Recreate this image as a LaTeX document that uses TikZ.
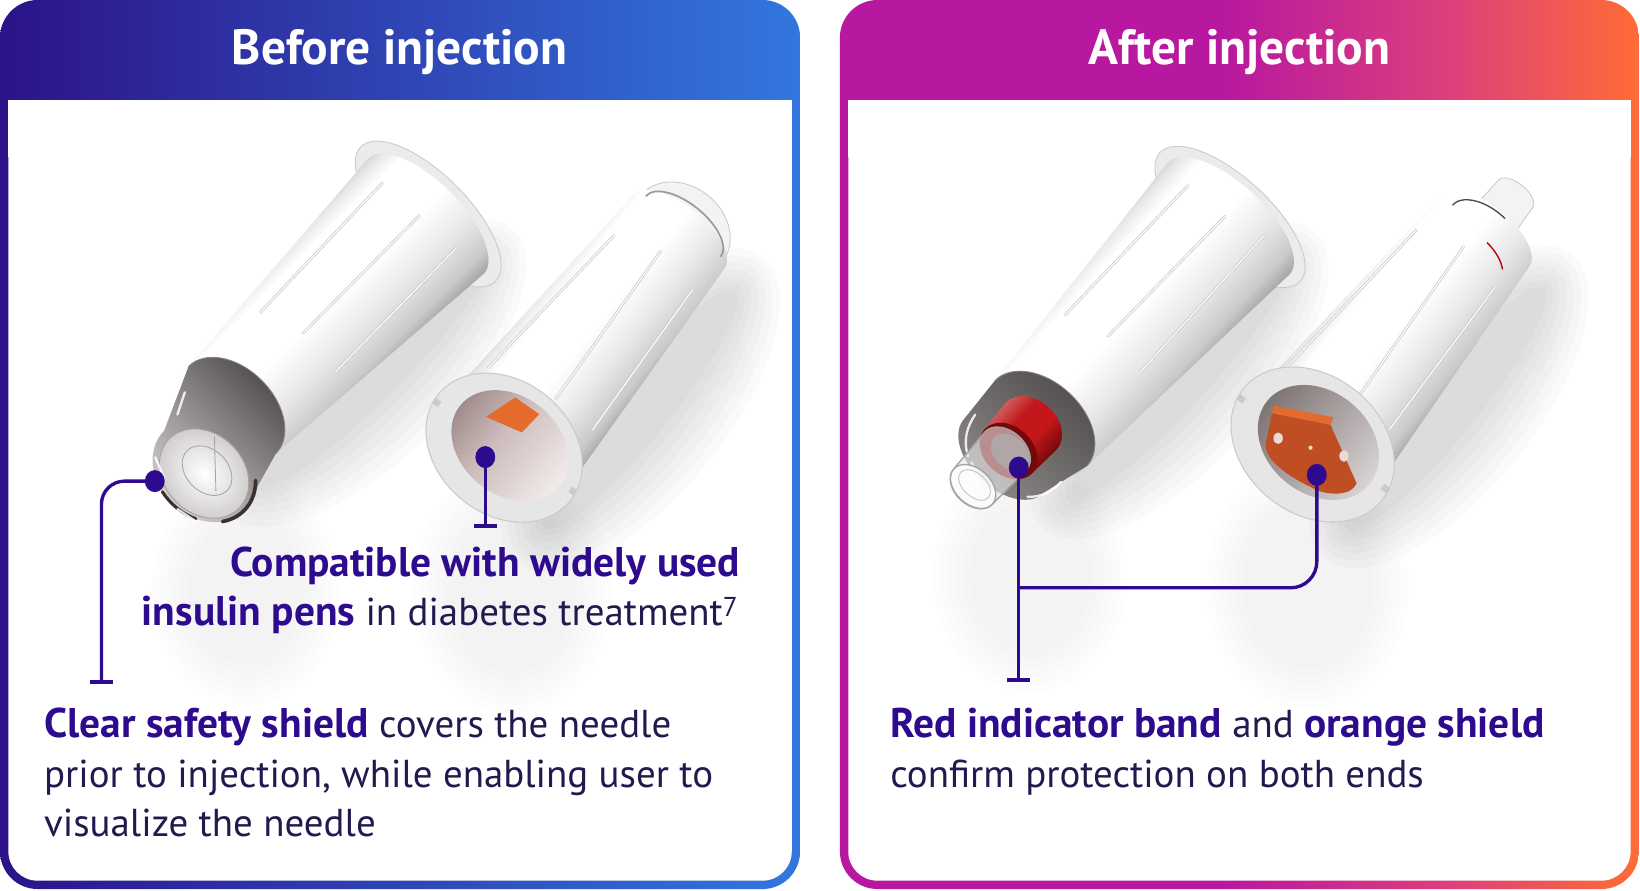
\documentclass[tikz,border=0pt]{standalone}
\usepackage{fontspec}
\setmainfont{PT Sans}
\usetikzlibrary{shapes.geometric}
\definecolor{indA}{HTML}{2C1389}
\definecolor{bluA}{HTML}{3277DE}
\definecolor{magA}{HTML}{B8189F}
\definecolor{pnkA}{HTML}{DC3F7C}
\definecolor{orgA}{HTML}{FF6C35}
\definecolor{boldc}{HTML}{2E0A8E}
\definecolor{txtc}{HTML}{211A4E}
\definecolor{cg1}{HTML}{F3F3F3}
\definecolor{cg2}{HTML}{E8E8E8}
\definecolor{cg3}{HTML}{CACACA}
\definecolor{cg4}{HTML}{A4A4A4}
\definecolor{cg5}{HTML}{D8D8D8}
\definecolor{rimc}{HTML}{E6E6E6}
\definecolor{flc}{HTML}{ECEAEA}
\definecolor{capd}{HTML}{575252}
\definecolor{capm}{HTML}{8A8585}
\definecolor{capl}{HTML}{D2CECE}
\definecolor{capk}{HTML}{3E3030}
\definecolor{redA}{HTML}{C3171B}
\definecolor{redB}{HTML}{740909}
\definecolor{redL}{HTML}{CF5C5C}
\definecolor{oraA}{HTML}{BF4E22}
\definecolor{oraB}{HTML}{E56B2D}
\definecolor{oraH}{HTML}{EADBD4}
\definecolor{pkD}{HTML}{A18C8C}
\definecolor{pkM}{HTML}{CDBDBC}
\definecolor{pkL}{HTML}{F2ECEB}
\definecolor{gyD}{HTML}{7E7474}
\definecolor{gyL}{HTML}{D9D3D3}
\pgfdeclarehorizontalshading{afterg}{100bp}{color(0bp)=(magA); color(25bp)=(magA); color(49bp)=(magA); color(63bp)=(pnkA); color(75bp)=(orgA); color(100bp)=(orgA)}
\pgfdeclareverticalshading{cylw}{100bp}{color(0bp)=(cg4); color(25bp)=(cg4); color(30bp)=(cg3); color(40bp)=(cg2); color(52bp)=(white); color(68bp)=(white); color(73bp)=(cg2); color(75bp)=(cg5); color(100bp)=(cg5)}
\pgfdeclareverticalshading{redc}{100bp}{color(0bp)=(redB); color(25bp)=(redB); color(42bp)=(redA); color(60bp)=(redA); color(75bp)=(redL); color(100bp)=(redL)}
\pgfdeclareverticalshading{openb}{100bp}{color(0bp)=(pkL); color(25bp)=(pkL); color(55bp)=(pkM); color(75bp)=(pkD); color(100bp)=(pkD)}
\pgfdeclareverticalshading{opend}{100bp}{color(0bp)=(gyL); color(25bp)=(gyL); color(75bp)=(gyD); color(100bp)=(gyD)}
\newcommand\cylbody[6]{(#1,-#2) -- (#3,-#4) arc[start angle=-90,end angle=90,x radius={#6*#4},y radius=#4] -- (#1,#2) arc[start angle=90,end angle=270,x radius={#5*#2},y radius=#2] -- cycle}
\newcommand\hl[1]{{\fontsize{39.6}{48}\selectfont\bfseries\color{boldc}#1}}
\newcommand\rib[2]{\draw[ribg] #1 -- #2; \draw[ribw] #1 -- #2;}
\tikzset{
  bodytxt/.style={font=\fontsize{37.2}{48}\selectfont, text=txtc, inner sep=0pt},
  titletxt/.style={font=\bfseries\fontsize{47.3}{52}\selectfont, text=white, inner sep=0pt, anchor=base},
  conn/.style={draw=boldc, line width=3.2pt},
  tickln/.style={draw=boldc, line width=4.5pt},
  dotn/.style={ellipse, fill=boldc, inner sep=0pt, minimum width=19pt, minimum height=21pt},
  ribg/.style={draw=cg3, line width=2.6pt, line cap=round},
  ribw/.style={draw=white, line width=1.1pt, line cap=round},
  flange/.style={fill=flc, draw=cg3, line width=0.8pt},
  shad/.style={fill=black, opacity=0.02},
  refl/.style={fill=black, opacity=0.006},
  glint/.style={draw=white, line width=2.2pt, line cap=round, opacity=0.85},
}
\begin{document}
\begin{tikzpicture}[x=1pt,y=-1pt]
\useasboundingbox (0,0) rectangle (1568,851);
\fill[white] (0,0) rectangle (1568,851);
% panels
\shade[left color=indA, right color=bluA, rounded corners=36pt] (0,0) rectangle (765,850);
\fill[white, rounded corners=28pt] (8,96) rectangle (757,842);
\fill[white] (8,96) rectangle (757,150);
\shade[shading=afterg, rounded corners=36pt] (803,0) rectangle (1567,850);
\fill[white, rounded corners=28pt] (811,96) rectangle (1559,842);
\fill[white] (811,96) rectangle (1559,150);
\node[titletxt] (tb) at (382,62) {Before injection};
\node[titletxt] (ta) at (1185,62) {After injection};

% ---------- reflections on the floor
\foreach \cx/\cy/\rx/\ry in {235/565/55/70, 490/565/60/78, 985/550/58/72, 1250/560/62/78}{
  \foreach \s in {0,...,5}{\fill[refl] (\cx,\cy) ellipse[x radius={\rx+7*\s}, y radius={\ry+8*\s}];}
}

% ---------- Pen A
\begin{scope}[transform canvas={shift={(222,392)}, rotate=45}]
  \foreach \s in {0,...,6}{\fill[shad] (120,70) ellipse[x radius={150+7*\s}, y radius={26+9*\s}];}
  \filldraw[flange] (265,0) ellipse[x radius=38, y radius=91];
  \shade[shading=cylw] \cylbody{0}{59}{262}{78}{0.75}{0.42};
  \rib{(85,-47)}{(255,-52)}
  \rib{(100,-4)}{(258,-5)}
  \rib{(96,44)}{(262,42)}
  % clear shield (cup)
  \shade[left color=capl, middle color=capm, right color=capd] (0,-59) arc[start angle=-90, end angle=90, x radius=40, y radius=59] -- (-60,76) arc[start angle=90, end angle=270, x radius=44, y radius=54] -- cycle;
  \draw[capm, line width=0.8pt] (0,-59) arc[start angle=-90, end angle=90, x radius=40, y radius=59];
  \shade[inner color=white, outer color=capl] (-62,24) ellipse[x radius=38, y radius=47];
  \draw[cg4, line width=0.9pt] (-62,24) ellipse[x radius=38, y radius=47];
  \draw[cg4, line width=0.8pt] (-58,24) ellipse[x radius=20, y radius=27];
  \draw[cg4, line width=0.8pt] (-30,6) -- (-66,44);
  \draw[capk, line width=3.5pt, line cap=round] (-60,22) ++(50:44 and 54) arc[start angle=50, end angle=120, x radius=44, y radius=54];
  \draw[capk, line width=3pt, line cap=round] (-60,22) ++(150:44 and 54) arc[start angle=150, end angle=195, x radius=44, y radius=54];
  \draw[glint] (-92,0) -- (-84,-20) (-40,-34) -- (-20,-44) (-104,30) -- (-100,50);
\end{scope}

% ---------- Pen B
\begin{scope}[transform canvas={shift={(482,428)}, rotate=51}]
  \foreach \s in {0,...,6}{\fill[shad] (110,78) ellipse[x radius={145+7*\s}, y radius={28+9*\s}];}
  \filldraw[fill=cg1, draw=cg3, line width=0.8pt] (270,0) ellipse[x radius=40, y radius=50];
  \shade[shading=cylw] \cylbody{0}{72}{265}{56}{0.79}{0.45};
  \draw[gray!80, line width=1.6pt] (272,-46) arc[start angle=-90, end angle=90, x radius=22, y radius=46];
  \rib{(50,-60)}{(224,-46)}
  \rib{(67,9)}{(240,-2)}
  \rib{(66,55)}{(231,45)}
  \filldraw[fill=rimc, draw=cg3, line width=1pt] (0,0) ellipse[x radius=64, y radius=81];
  \shade[shading=openb] (5,3) ellipse[x radius=47, y radius=61];
  \begin{scope}
    \clip (5,3) ellipse[x radius=47, y radius=61];
    \fill[oraB] (12,-32) -- (44,-22) -- (46,6) -- (22,4) -- cycle;
  \end{scope}
  \fill[cg3] (-10,-80) rectangle (-4,-74);
  \fill[cg3] (6,74) rectangle (12,80);
\end{scope}

% ---------- Pen C
\begin{scope}[transform canvas={shift={(995,405)}, rotate=47.5}]
  \foreach \s in {0,...,6}{\fill[shad] (120,70) ellipse[x radius={150+7*\s}, y radius={26+9*\s}];}
  \filldraw[flange] (268,0) ellipse[x radius=38, y radius=91];
  \shade[shading=cylw] \cylbody{0}{60}{266}{79}{0.75}{0.42};
  \rib{(92,-53)}{(263,-50)}
  \rib{(105,-9)}{(265,-4)}
  \rib{(100,37)}{(278,36)}
  % clear shield
  \shade[left color=capm, right color=capd] (0,-60) arc[start angle=-90, end angle=90, x radius=40, y radius=60] -- (-46,47) arc[start angle=90, end angle=270, x radius=32, y radius=52] -- cycle;
  \draw[capm, line width=0.8pt] (0,-60) arc[start angle=-90, end angle=90, x radius=40, y radius=60];
  \begin{scope}[shift={(0,-5)}]
    \shade[shading=redc] \cylbody{-40}{31}{-8}{33}{0.75}{0.75};
    \fill[redB] (-40,0) ellipse[x radius=23, y radius=31];
    \fill[capd!80!redB] (-40,2) ellipse[x radius=15, y radius=21];
  \end{scope}
  \draw[glint] (-70,-30) .. controls (-62,-44) and (-50,-50) .. (-36,-52);
  \draw[glint] (-78,-8) -- (-72,-24);
  \draw[glint] (-60,38) .. controls (-52,48) and (-40,52) .. (-28,52);
  \begin{scope}[shift={(0,-7)}]
    \fill[cg2, opacity=0.6] \cylbody{-88}{25}{-42}{27}{0.7}{0.7};
    \draw[cg4, line width=1.3pt] \cylbody{-88}{25}{-42}{27}{0.7}{0.7};
    \filldraw[fill=white, fill opacity=0.8, draw=cg4, line width=1.3pt] (-88,0) ellipse[x radius=17, y radius=25];
    \draw[cg3, line width=1pt] (-86,0) ellipse[x radius=11, y radius=18];
  \end{scope}
\end{scope}

% ---------- Pen D
\begin{scope}[transform canvas={shift={(1255,425)}, rotate=51}]
  \foreach \s in {0,...,6}{\fill[shad] (110,78) ellipse[x radius={145+7*\s}, y radius={28+9*\s}];}
  \filldraw[fill=cg1, draw=cg3, line width=0.8pt] \cylbody{258}{24}{308}{21}{0.5}{0.5};
  \shade[shading=cylw] \cylbody{0}{74}{262}{54}{0.79}{0.45};
  \draw[black!70, line width=1.3pt] (262,-40) arc[start angle=-90, end angle=10, x radius=22, y radius=40];
  \draw[red!75!black, line width=1.3pt] (255,8) arc[start angle=10, end angle=60, x radius=22, y radius=40];
  \rib{(38,-66)}{(222,-52)}
  \rib{(67,5)}{(238,-7)}
  \rib{(57,48)}{(227,41)}
  \filldraw[fill=rimc, draw=cg3, line width=1pt] (0,0) ellipse[x radius=66, y radius=85];
  \shade[shading=opend] (5,3) ellipse[x radius=49, y radius=63];
  \fill[cg3] (-12,-84) rectangle (-6,-77);
  \fill[cg3] (8,77) rectangle (14,84);
\end{scope}
\fill[oraA] (1216,395) -- (1272,406) -- (1297,462) .. controls (1293,474) and (1270,474) .. (1258,468) .. controls (1230,455) and (1210,440) .. (1210,425) -- cycle;
\fill[oraB] (1218,388) -- (1275,399) -- (1272,406) -- (1216,395) -- cycle;
\fill[oraH] (1222,419) ellipse[x radius=4.5, y radius=5.5];
\fill[oraH] (1285,436) ellipse[x radius=4.5, y radius=5.5];
\fill[oraH] (1253,428) ellipse[x radius=2, y radius=2];

% ---------- connectors
\node[dotn] (d1) at (148,460) {};
\coordinate (e1) at (97,652);
\draw[conn, rounded corners=22pt] (d1.center) -| (e1);
\draw[tickln] ([xshift=-11pt]e1) -- ([xshift=11pt]e1);

\node[dotn] (d2) at (464,437) {};
\coordinate (e2) at (464,503);
\draw[conn] (d2.center) -- (e2);
\draw[tickln] ([xshift=-11pt]e2) -- ([xshift=11pt]e2);

\node[dotn] (d3) at (974,447) {};
\coordinate (e3) at (974,650);
\draw[conn] (d3.center) -- (e3);
\draw[tickln] ([xshift=-11pt]e3) -- ([xshift=11pt]e3);

\node[dotn] (d4) at (1259,454) {};
\coordinate (j) at (974,562);
\draw[conn, rounded corners=25pt] (d4.center) |- (j);

% ---------- texts
\node[bodytxt, anchor=base east] (c1a) at (708,551) {\hl{Compatible with widely used}};
\node[bodytxt, anchor=base east] (c1b) at (706,598) {\hl{insulin pens} in diabetes treatment\textsuperscript{7}};
\node[bodytxt, anchor=base west] (c2a) at (42,705) {\hl{Clear safety shield} covers the needle};
\node[bodytxt, anchor=base west] (c2b) at (42,753) {prior to injection, while enabling user to};
\node[bodytxt, anchor=base west] (c2c) at (42,800) {visualize the needle};
\node[bodytxt, anchor=base west] (c3a) at (851,705) {\hl{Red indicator band} and \hl{orange shield}};
\node[bodytxt, anchor=base west] (c3b) at (851,753) {confirm protection on both ends};
\end{tikzpicture}
\end{document}
